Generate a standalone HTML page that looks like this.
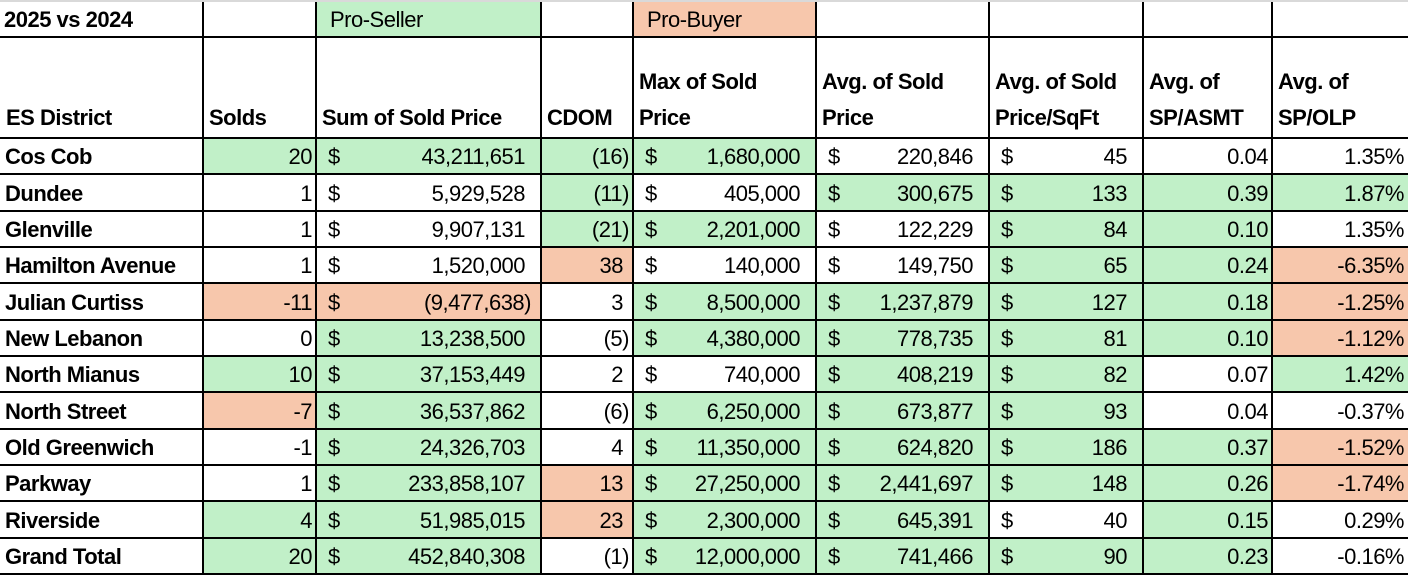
<!DOCTYPE html>
<html><head><meta charset="utf-8">
<style>
html,body{margin:0;padding:0;background:#fff;}
body{width:1408px;height:574px;overflow:hidden;position:relative;font-family:"Liberation Sans",sans-serif;color:#000;}
#topband{position:absolute;left:0;top:0;width:1408px;height:2px;background:#d9d9d9;}
.cell{position:absolute;box-sizing:border-box;font-size:22px;letter-spacing:-0.5px;white-space:nowrap;overflow:hidden;}
.hl{position:absolute;background:#000;height:2px;}
.vl{position:absolute;background:#000;width:2px;}
.g{background:#c1f0c8;}
.o{background:#f7c7ac;}
.b{font-weight:bold;}
</style></head>
<body>
<div id="topband"></div>
<div id="grid"></div>
<script>
const colWidths=[203,113,225,92,183,173,154,129,136];
const headers=["ES District","Solds","Sum of Sold Price","CDOM","Max of Sold|Price","Avg. of Sold|Price","Avg. of Sold|Price/SqFt","Avg. of|SP/ASMT","Avg. of|SP/OLP"];
const districts=["Cos Cob","Dundee","Glenville","Hamilton Avenue","Julian Curtiss","New Lebanon","North Mianus","North Street","Old Greenwich","Parkway","Riverside","Grand Total"];
const solds=["20","1","1","1","-11","0","10","-7","-1","1","4","20"];
const sumPrice=["43,211,651","5,929,528","9,907,131","1,520,000","(9,477,638)","13,238,500","37,153,449","36,537,862","24,326,703","233,858,107","51,985,015","452,840,308"];
const cdom=["(16)","(11)","(21)","38","3","(5)","2","(6)","4","13","23","(1)"];
const maxPrice=["1,680,000","405,000","2,201,000","140,000","8,500,000","4,380,000","740,000","6,250,000","11,350,000","27,250,000","2,300,000","12,000,000"];
const avgPrice=["220,846","300,675","122,229","149,750","1,237,879","778,735","408,219","673,877","624,820","2,441,697","645,391","741,466"];
const ppsf=["45","133","84","65","127","81","82","93","186","148","40","90"];
const asmt=["0.04","0.39","0.10","0.24","0.18","0.10","0.07","0.04","0.37","0.26","0.15","0.23"];
const olp=["1.35%","1.87%","1.35%","-6.35%","-1.25%","-1.12%","1.42%","-0.37%","-1.52%","-1.74%","0.29%","-0.16%"];
const fills=["WGGGGWWWW","WWWGWGGGG","WWWGGWGGW","WWWOWWGGO","WOOWGGGGO","WWGWGGGGO","WGGWWGGWG","WOGWGGGWW","WWGWGGGGO","WWGOGGGGO","WGGOGGWGW","WGGWGGGGW"];
const grid=document.getElementById('grid');
const xs=[0];colWidths.forEach(w=>xs.push(xs[xs.length-1]+w));
const ys=[2,37,138];for(let i=1;i<=12;i++)ys.push(Math.round(138+i*436/12));
function cell(x,y,w,h,cls,name){const d=document.createElement('div');d.className='cell '+cls;d.style.left=x+'px';d.style.top=y+'px';d.style.width=w+'px';d.style.height=h+'px';


grid.appendChild(d);return d;}
let c=cell(0,ys[0],xs[1],ys[1]-ys[0],'b','title-cell');c.textContent='2025 vs 2024';c.style.padding='5px 0 0 4px';
c=cell(xs[2],ys[0],colWidths[2],ys[1]-ys[0],'g','pro-seller-label');c.textContent='Pro-Seller';c.style.padding='5px 0 0 14px';
c=cell(xs[4],ys[0],colWidths[4],ys[1]-ys[0],'o','pro-buyer-label');c.textContent='Pro-Buyer';c.style.padding='5px 0 0 14px';
headers.forEach((h,i)=>{const d=cell(xs[i],ys[1],colWidths[i],ys[2]-ys[1],'b','header-'+i);
d.style.display='flex';d.style.flexDirection='column';d.style.justifyContent='flex-end';d.style.padding='0 0 2px 6px';d.style.lineHeight='36px';
h.split('|').forEach(t=>{const s=document.createElement('div');s.textContent=t;d.appendChild(s);});});
const cols=[districts,solds,sumPrice,cdom,maxPrice,avgPrice,ppsf,asmt,olp];
const dollar=[false,false,true,false,true,true,true,false,false];
districts.forEach((dn,r)=>{
  for(let i=0;i<9;i++){
    const f=fills[r][i];const cls=(f==='G'?'g':f==='O'?'o':'')+(i===0?' b':'');
    const d=cell(xs[i],ys[r+2],colWidths[i],ys[r+3]-ys[r+2],cls,'cell-r'+r+'-c'+i);
    d.style.display='flex';d.style.alignItems='center';d.style.padding='2px 4px 0 5px';
    const v=cols[i][r];
    if(i===0){d.textContent=v;}
    else if(dollar[i]){d.style.justifyContent='space-between';d.style.paddingLeft='12px';d.style.paddingRight=v.endsWith(')')?'10px':'16px';
      const a=document.createElement('span');a.textContent='$';d.appendChild(a);
      const b=document.createElement('span');b.textContent=v;d.appendChild(b);}
    else{d.style.justifyContent='flex-end';d.textContent=v;
      if(i===3&&!v.endsWith(')'))d.style.paddingRight='10px';}
  }
});
ys.forEach((y,k)=>{if(k===0)return;const l=document.createElement('div');l.className='hl';l.style.left='0px';l.style.top=(y-1)+'px';l.style.width='1408px';


grid.appendChild(l);});
xs.slice(1,9).forEach(x=>{const l=document.createElement('div');l.className='vl';l.style.left=(x-1)+'px';l.style.top='2px';l.style.height='572px';


grid.appendChild(l);});
</script>
</body></html>
